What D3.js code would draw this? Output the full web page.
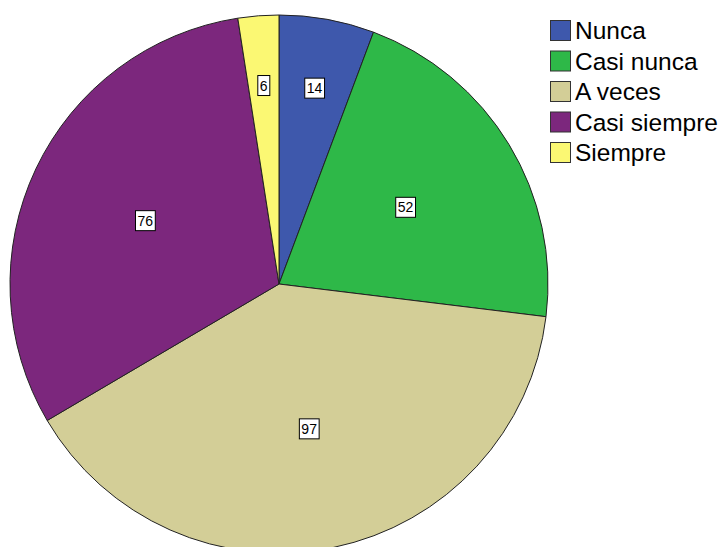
<!DOCTYPE html>
<html><head><meta charset="utf-8">
<script src="https://cdn.jsdelivr.net/npm/d3@7"></script>
<style>body{margin:0;background:#fff;}svg{display:block;}</style>
</head><body>
<svg id="c" width="721" height="547"></svg>
<script>
const categories = ["Nunca", "Casi nunca", "A veces", "Casi siempre", "Siempre"];
const values = [14, 52, 97, 76, 6];
const colors = ["#3E58AC", "#2EB848", "#D3CE97", "#7C277D", "#FBF873"];

const svg = d3.select("#c");
const cx = 279, cy = 284, R = 269;
const total = d3.sum(values);
const data = categories.map((c, i) => ({cat: c, value: values[i], color: colors[i]}));
const pie = d3.pie().value(d => d.value).sort(null);
const arcs = pie(data);
const arc = d3.arc().innerRadius(0).outerRadius(R);
const g = svg.append("g").attr("transform", `translate(${cx},${cy})`);
g.selectAll("path").data(arcs).join("path")
  .attr("d", arc).attr("fill", d => d.data.color)
  .attr("stroke", "#222").attr("stroke-width", 1).attr("stroke-linejoin", "round");

const lab = g.selectAll("g.lab").data(arcs).join("g").attr("class", "lab")
  .attr("transform", d => {
    const frac = d.data.value / total;
    const r = frac < 0.1 ? R * 0.74 : R * 0.55;
    const a = (d.startAngle + d.endAngle) / 2;
    return `translate(${Math.sin(a) * r},${-Math.cos(a) * r})`;
  });
lab.each(function(d) {
  const s = d3.select(this);
  const t = s.append("text").text(d.data.value)
    .attr("font-family", "Liberation Sans, Arial, sans-serif").attr("font-size", 14)
    .attr("text-anchor", "middle").attr("dominant-baseline", "central").attr("fill", "#000");
  const bb = t.node().getBBox();
  s.insert("rect", "text").attr("x", bb.x - 2).attr("y", -10)
    .attr("width", bb.width + 4).attr("height", 20)
    .attr("fill", "#fff").attr("stroke", "#000").attr("stroke-width", 1);
});

const leg = svg.append("g").attr("transform", "translate(550,20)");
const li = leg.selectAll("g").data(data).join("g").attr("transform", (d, i) => `translate(0,${i * 30.5})`);
li.append("rect").attr("x", 0.5).attr("y", 0.5).attr("width", 20).attr("height", 20)
  .attr("fill", d => d.color).attr("stroke", "#333").attr("stroke-width", 1);
li.append("text").attr("x", 25).attr("y", 19).text(d => d.cat)
  .attr("font-family", "Liberation Sans, Arial, sans-serif").attr("font-size", 24.5).attr("fill", "#000");
</script>
</body></html>
